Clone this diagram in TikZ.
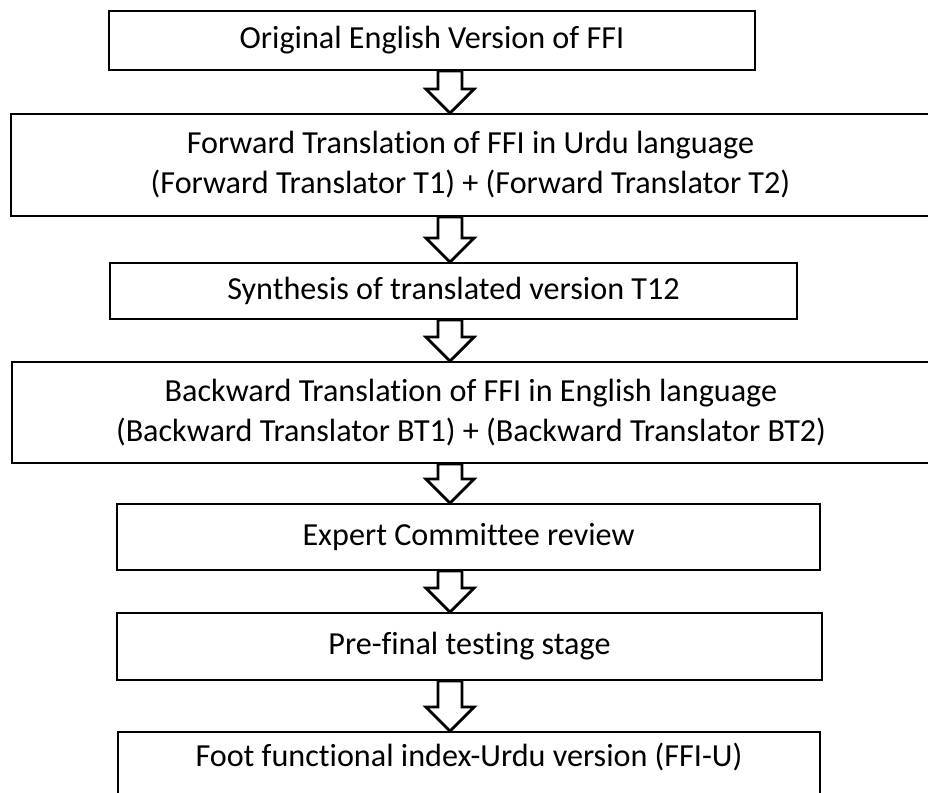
\documentclass[tikz,border=0pt]{standalone}
\usepackage{fontspec}
\setmainfont{Carlito}[Ligatures=CommonOff]
\usepackage{tikz}
\usetikzlibrary{calc}

\newcommand{\flowarrow}[2]{%
  \coordinate (top) at (#1.south -| axis);
  \coordinate (tip) at (#2.north -| axis);
  \draw[hollow_arrow] ($(top)+(-12,0)$) -- ($(tip)+(-12,-24)$) -- ($(tip)+(-24,-24)$) -- (tip)
    -- ($(tip)+(24,-24)$) -- ($(tip)+(12,-24)$) -- ($(top)+(12,0)$) -- cycle;}

\begin{document}
\begin{tikzpicture}[x=0.02cm, y=-0.02cm,
  stage_box/.style={rectangle, draw, line width=1.1pt, align=center, inner sep=0pt,
    font=\fontsize{18.3}{22.7}\selectfont},
  hollow_arrow/.style={draw, fill=white, line width=1.6pt, line join=miter}]

	\useasboundingbox[fill=white] (0,0) rectangle (928,793);
	\coordinate (axis) at (450,0);

	\node[stage_box, minimum width=12.94cm, minimum height=1.18cm] (orig) at (432,40.5) {Original English Version of FFI};
	\node[stage_box, minimum width=18.38cm, minimum height=2.04cm] (fwd) at (470.5,165) {Forward Translation of FFI in Urdu language\\(Forward Translator T1) + (Forward Translator T2)};
	\node[stage_box, minimum width=13.74cm, minimum height=1.12cm] (synth) at (453.5,291) {Synthesis of translated version T12};
	\node[stage_box, minimum width=18.36cm, minimum height=2.02cm] (back) at (471,412.5) {Backward Translation of FFI in English language\\(Backward Translator BT1) + (Backward Translator BT2)};
	\node[stage_box, minimum width=14.06cm, minimum height=1.32cm] (expert) at (468.5,537) {Expert Committee review};
	\node[stage_box, minimum width=14.10cm, minimum height=1.34cm] (prefinal) at (469.5,646.5) {Pre-final testing stage};
	\node[stage_box, minimum width=14.04cm, minimum height=1.28cm, text depth=11pt] (final) at (469,764) {Foot functional index-Urdu version (FFI-U)};

	\flowarrow{orig}{fwd}
	\flowarrow{fwd}{synth}
	\flowarrow{synth}{back}
	\flowarrow{back}{expert}
	\flowarrow{expert}{prefinal}
	\flowarrow{prefinal}{final}

\end{tikzpicture}
\end{document}
